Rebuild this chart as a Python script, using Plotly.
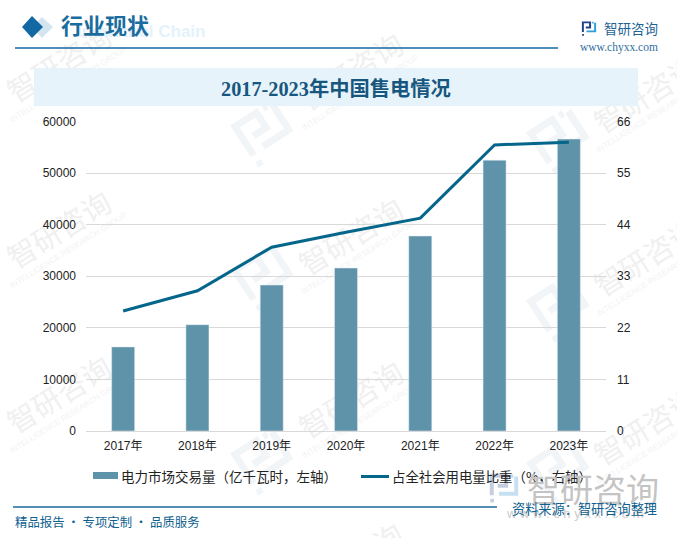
import math
import plotly.graph_objects as go

W, H = 677, 538

years = ["2017年", "2018年", "2019年", "2020年", "2021年", "2022年", "2023年"]
trade_volume = [16300, 20600, 28300, 31600, 37800, 52500, 56600]
power_share = [25.6, 29.9, 39.2, 42.4, 45.4, 61.0, 61.6]
left_ticks = [0, 10000, 20000, 30000, 40000, 50000, 60000]
right_ticks = [0, 11, 22, 33, 44, 55, 66]
bar_name = "电力市场交易量（亿千瓦时，左轴）"
line_name = "占全社会用电量比重（%，右轴）"
title_text = "2017-2023年中国售电情况"

CJK = "Noto Sans CJK SC"
SANS = f"Liberation Sans, {CJK}"
SERIF = f"Liberation Serif, {CJK}"
BAR = "#5F93AA"
LINE = "#04668A"
BLUE = "#1268A3"
TXT_BLUE = "#0F5F8F"


def X(p):
    return p / W


def Y(p):
    return 1 - p / H


shapes = []
annotations = []


def note(text, x, y, size, color, family=SANS, bold=False, anchor="center", angle=0):
    annotations.append(dict(
        text=f"<b>{text}</b>" if bold else text, x=X(x), y=Y(y), xref="paper", yref="paper",
        xanchor=anchor, yanchor="middle", showarrow=False, textangle=angle,
        font=dict(size=size, color=color, family=family),
    ))


def rect(x0, y0, x1, y1, color, layer="below"):
    shapes.append(dict(type="rect", xref="paper", yref="paper", x0=X(x0), x1=X(x1),
                       y0=Y(y0), y1=Y(y1), fillcolor=color, line_width=0, layer=layer))


def hline(x0, x1, y, color, width=1.5):
    shapes.append(dict(type="line", xref="paper", yref="paper", x0=X(x0), x1=X(x1),
                       y0=Y(y), y1=Y(y), line=dict(color=color, width=width), layer="above"))


def poly(points, color=None, width=0, fill=None, layer="below"):
    d = "M" + " L".join(f"{X(a):.5f},{Y(b):.5f}" for a, b in points)
    if fill:
        d += " Z"
    shapes.append(dict(type="path", xref="paper", yref="paper", path=d, layer=layer,
                       fillcolor=fill, line=dict(color=color or fill, width=width)))


def logo(cx, cy, scale, c1, c2, angle=0, layer="below"):
    a = math.radians(angle)

    def t(pts):
        out = []
        for px, py in pts:
            lx, ly = (px - 20) * scale, (py - 20) * scale
            out.append((cx + lx * math.cos(a) + ly * math.sin(a),
                        cy - lx * math.sin(a) + ly * math.cos(a)))
        return out

    w = 5.5 * scale
    poly(t([(3, 30), (3, 3), (23, 3), (23, 17), (11, 17)]), c1, w, layer=layer)
    poly(t([(37, 4), (37, 28), (13, 28)]), c2, w, layer=layer)
    poly(t([(29, 1), (33, 1), (33, 6), (29, 6)]), fill=c2, layer=layer)
    poly(t([(1, 35), (6, 35), (6, 40), (1, 40)]), fill=c1, layer=layer)


# repeated background watermark
WM_TEXT = "#F0F0F0"
WM_SUB = "#F3F3F3"
for cx, cy in [(58, 62), (58, 228), (58, 393), (350, 70), (350, 235), (350, 398),
               (350, 560), (645, 93), (645, 256), (645, 425)]:
    note("智研咨询", cx, cy, 29, WM_TEXT, family=CJK, angle=-32)
    note("INTELLIGENCE RESEARCH GROUP", cx + 10, cy + 22, 8, WM_SUB, angle=-32)
wm_count = len(annotations)
for cx, cy in [(265, 133), (265, 277), (265, 461), (561, 140), (561, 308), (561, 470)]:
    logo(cx, cy, 1.28, "#F2F5F8", "#F2F5F8", angle=33)

# header
poly([(32, 27), (42, 17), (53, 27), (42, 38)], fill="#D3E5F0", layer="above")
poly([(22, 27), (32, 16), (43, 27), (32, 38)], fill="#1268A3", layer="above")
note("Industrial Chain", 141, 32, 17, "#E4F2FB", bold=True)
note("行业现状", 105, 27, 22, "#1B6C9E", family=SERIF, bold=True)
hline(15, 558, 48, BLUE, 1.5)
logo(589, 28.5, 0.36, "#23408F", "#2F9FDC", layer="above")
note("智研咨询", 631, 28, 13.5, "#1F6396", family=CJK)
note("www.chyxx.com", 619, 48, 11.5, "#2F6FA0", family=SERIF)

# title band
rect(34, 68, 638, 106, "#E6F3FB", layer="above")
note(title_text, 336, 89, 20.3, "#17577F", family=SERIF, bold=True)

# legend
rect(93, 472, 118, 479, BAR, layer="above")
note(bar_name, 119, 476, 13.5, "#222222", family=CJK, anchor="left")
hline(361, 389, 476.5, LINE, 3)
note(line_name, 390, 476, 13.4, "#222222", family=CJK, anchor="left")

# footer
logo(504, 488, 0.72, "#C5CEE0", "#C6E0F2", layer="above")
note("智研咨询", 593, 488, 33, "#C4C4C4", family=CJK)
note("w w w . c h y x x . c o m", 575, 513, 13, "#CDCDCD", family=SANS)
hline(13, 497, 507, "#1A6A9A", 1.5)
note("精品报告 · 专项定制 · 品质服务", 13, 522, 12.4, TXT_BLUE, family=CJK, anchor="left")
note("资料来源：智研咨询整理", 659, 508, 13.2, TXT_BLUE, family=CJK, anchor="right")

fig = go.Figure()
fig.add_bar(x=years, y=trade_volume, name=bar_name, marker_color=BAR, width=0.31,
            showlegend=False, yaxis="y")
fig.add_scatter(x=years, y=power_share, name=line_name, mode="lines", yaxis="y2",
                line=dict(color=LINE, width=3), showlegend=False)

tick_font = dict(size=12, color="#222222", family=SANS)
fig.update_layout(
    width=W, height=H, autosize=False,
    margin=dict(l=0, r=0, t=0, b=0, autoexpand=False),
    paper_bgcolor="white", plot_bgcolor="rgba(0,0,0,0)",
    showlegend=False, shapes=shapes, annotations=annotations,
    xaxis=dict(domain=[X(86), X(606)], type="category", categoryorder="array", categoryarray=years,
               range=[-0.5, 6.5], showline=False, showgrid=False, zeroline=False, ticks="",
               tickfont=tick_font, ticklabelstandoff=6, anchor="y"),
    yaxis=dict(domain=[Y(431), Y(121.5)], range=[0, 60000], tickvals=left_ticks,
               ticktext=[str(v) for v in left_ticks], gridcolor="#D9D9D9", gridwidth=1,
               zeroline=True, zerolinecolor="#D9D9D9", zerolinewidth=1, showline=False, ticks="",
               tickfont=tick_font, ticklabelstandoff=9),
    yaxis2=dict(domain=[Y(431), Y(121.5)], range=[0, 66], tickvals=right_ticks,
                ticktext=[str(v) for v in right_ticks], overlaying="y", side="right", anchor="x",
                showgrid=False, zeroline=False, showline=False, ticks="",
                tickfont=tick_font, ticklabelstandoff=10),
)

# page fills the window; keep the repeated watermark texts behind bars, gridlines and title band
post = """
document.body.style.margin = '0';
document.documentElement.style.overflow = 'hidden';
var gd = document.getElementById('{plot_id}');
var svg = gd.querySelector('.main-svg');
var cart = svg.querySelector('.cartesianlayer');
var items = gd.querySelectorAll('.annotation');
for (var i = 0; i < %d && i < items.length; i++) {
  cart.parentNode.insertBefore(items[i], cart);
}
""" % wm_count

fig.write_html("out.html", post_script=post, config=dict(displayModeBar=False))
